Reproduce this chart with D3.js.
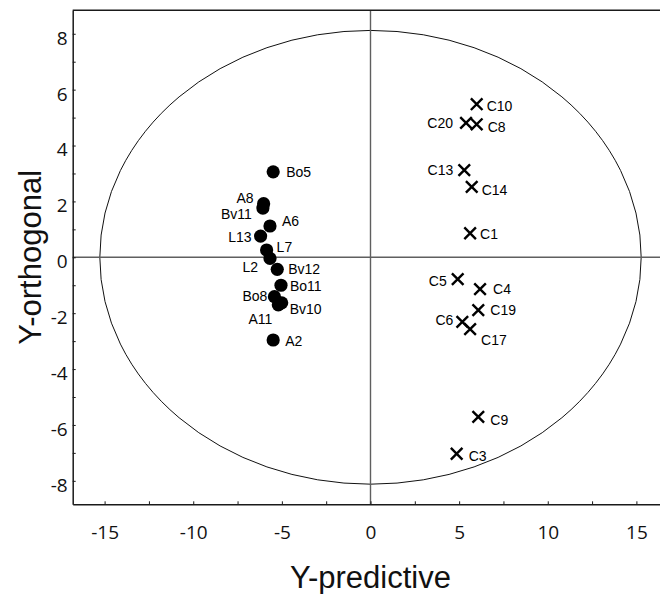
<!DOCTYPE html>
<html>
<head>
<meta charset="utf-8">
<script src="https://cdn.jsdelivr.net/npm/d3@7/dist/d3.min.js"></script>
<style>
  html, body { margin: 0; padding: 0; background: #fff; }
  svg { display: block; }
  .tick text { font-family: "Open Sans", sans-serif; font-size: 19px; fill: #111; }
</style>
</head>
<body>
<div id="chart"></div>
<script>
// OPLS-DA score plot: predictive vs. orthogonal component
const circleNames = ["Bo5", "A8", "Bv11", "A6", "L13", "L7", "L2", "Bv12", "Bo11", "Bo8", "Bv10", "A11", "A2"];
const circleX = [-5.49, -6.03, -6.07, -5.67, -6.20, -5.86, -5.67, -5.26, -5.05, -5.42, -5.01, -5.20, -5.49];
const circleY = [3.06, 1.92, 1.76, 1.12, 0.76, 0.26, -0.04, -0.43, -1.00, -1.41, -1.63, -1.70, -2.96];

const crossNames = ["C10", "C20", "C8", "C13", "C14", "C1", "C5", "C4", "C19", "C6", "C17", "C9", "C3"];
const crossX = [5.99, 5.39, 5.99, 5.29, 5.71, 5.62, 4.92, 6.18, 6.08, 5.18, 5.62, 6.08, 4.86];
const crossY = [5.48, 4.81, 4.76, 3.12, 2.52, 0.86, -0.78, -1.14, -1.89, -2.31, -2.57, -5.71, -7.03];

const xTickValues = [-15, -12.5, -10, -7.5, -5, -2.5, 0, 2.5, 5, 7.5, 10, 12.5, 15];
const xTickLabels = [-15, -10, -5, 0, 5, 10, 15];
const yTickValues = [-8, -7, -6, -5, -4, -3, -2, -1, 0, 1, 2, 3, 4, 5, 6, 7, 8];
const yTickLabels = [-8, -6, -4, -2, 0, 2, 4, 6, 8];

// Hotelling's T2 ellipse semi-axes
const ellipseRx = 15.27;
const ellipseRy = 8.12;

const xTitle = "Y-predictive";
const yTitle = "Y-orthogonal";

// label placement around each marker: [dx, dy, anchor]
const labelPlace = {
  Bo5: [13, 0, "start"], A8: [-10, -6, "end"], Bv11: [-11, 6, "end"], A6: [12, -5, "start"],
  L13: [-9, 1, "end"], L7: [10, -3, "start"], L2: [-12, 9, "end"], Bv12: [11, 0, "start"],
  Bo11: [9, 1, "start"], Bo8: [-7, -1, "end"], Bv10: [8, 6, "start"], A11: [-6, 14, "end"],
  A2: [12, 1, "start"],
  C10: [10, 2, "start"], C20: [-13, 0, "end"], C8: [11, 3, "start"], C13: [-11, 0, "end"],
  C14: [10, 3, "start"], C1: [10, 1, "start"], C5: [-11, 2, "end"], C4: [13, 0, "start"],
  C19: [12, 0, "start"], C6: [-9, -2, "end"], C17: [11, 11, "start"], C9: [12, 3, "start"],
  C3: [12, 2, "start"]
};

const W = 660, H = 594;
const frame = { left: 72.7, top: 10.3, bottom: 504.3, right: 668.3 };

const x = d3.scaleLinear().domain([-16.8, 16.8]).range([frame.left, frame.right]);
const y = d3.scaleLinear().domain([-8.84, 8.84]).range([frame.bottom, frame.top]);

const svg = d3.select("#chart").append("svg").attr("width", W).attr("height", H);

const plot = svg.append("g");

// ellipse
plot.append("ellipse")
  .attr("cx", x(0)).attr("cy", y(0))
  .attr("rx", x(ellipseRx) - x(0)).attr("ry", y(0) - y(ellipseRy))
  .attr("fill", "none").attr("stroke", "#111").attr("stroke-width", 1);

// zero lines
plot.append("line")
  .attr("x1", frame.left).attr("x2", frame.right).attr("y1", y(0)).attr("y2", y(0))
  .attr("stroke", "#5f5f5f").attr("stroke-width", 1.4);
plot.append("line")
  .attr("x1", x(0)).attr("x2", x(0)).attr("y1", frame.top).attr("y2", frame.bottom)
  .attr("stroke", "#5f5f5f").attr("stroke-width", 1.4);

// axes (ticks pointing inward)
const xAxis = d3.axisBottom(x).tickValues(xTickValues).tickSize(-3).tickSizeOuter(0).tickPadding(24)
  .tickFormat(d => xTickLabels.includes(d) ? String(d) : "");
const gx = svg.append("g").attr("transform", `translate(0,${frame.bottom})`).call(xAxis);

const yAxis = d3.axisLeft(y).tickValues(yTickValues).tickSize(-3).tickSizeOuter(0).tickPadding(5)
  .tickFormat(d => yTickLabels.includes(d) ? String(d) : "");
const gy = svg.append("g").attr("transform", `translate(${frame.left},0)`).call(yAxis);

[gx, gy].forEach(g => {
  g.select(".domain").attr("stroke", "#1a1a1a").attr("stroke-width", 1.5);
  g.selectAll(".tick line").attr("stroke", "#1a1a1a").attr("stroke-width", 1);
  g.selectAll(".tick text").attr("font-family", null).attr("font-size", null);
});
gy.selectAll(".tick text").attr("dy", "0.55em");
gx.selectAll(".tick text").attr("dy", "0.55em");

// top border
svg.append("line")
  .attr("x1", frame.left).attr("x2", frame.right).attr("y1", frame.top).attr("y2", frame.top)
  .attr("stroke", "#1a1a1a").attr("stroke-width", 1.5);

// circle group
const circles = circleNames.map((n, i) => ({ name: n, x: circleX[i], y: circleY[i] }));
plot.selectAll("circle.pt").data(circles).enter().append("circle")
  .attr("class", "pt")
  .attr("cx", d => x(d.x)).attr("cy", d => y(d.y)).attr("r", 6.6)
  .attr("fill", "#000");

// cross group
const crosses = crossNames.map((n, i) => ({ name: n, x: crossX[i], y: crossY[i] }));
const s = 5.8;
plot.selectAll("path.cross").data(crosses).enter().append("path")
  .attr("class", "cross")
  .attr("d", d => {
    const cx = x(d.x), cy = y(d.y);
    return `M${cx - s},${cy - s}L${cx + s},${cy + s}M${cx - s},${cy + s}L${cx + s},${cy - s}`;
  })
  .attr("stroke", "#000").attr("stroke-width", 2.4).attr("fill", "none");

// point labels
plot.selectAll("text.lab").data(circles.concat(crosses)).enter().append("text")
  .attr("class", "lab")
  .attr("x", d => x(d.x) + labelPlace[d.name][0])
  .attr("y", d => y(d.y) + labelPlace[d.name][1])
  .attr("dy", "0.35em")
  .attr("text-anchor", d => labelPlace[d.name][2])
  .attr("font-family", "Liberation Sans, Arial, sans-serif")
  .attr("font-size", 14)
  .attr("fill", "#000")
  .text(d => d.name);

// axis titles
svg.append("text")
  .attr("x", x(0)).attr("y", 577)
  .attr("text-anchor", "middle").attr("dominant-baseline", "central")
  .attr("font-family", "Liberation Sans, Arial, sans-serif").attr("font-size", 31)
  .attr("fill", "#111")
  .text(xTitle);

svg.append("text")
  .attr("transform", `translate(30,${y(0)}) rotate(-90)`)
  .attr("text-anchor", "middle").attr("dominant-baseline", "central")
  .attr("font-family", "Liberation Sans, Arial, sans-serif").attr("font-size", 31)
  .attr("fill", "#111")
  .text(yTitle);
</script>
</body>
</html>
